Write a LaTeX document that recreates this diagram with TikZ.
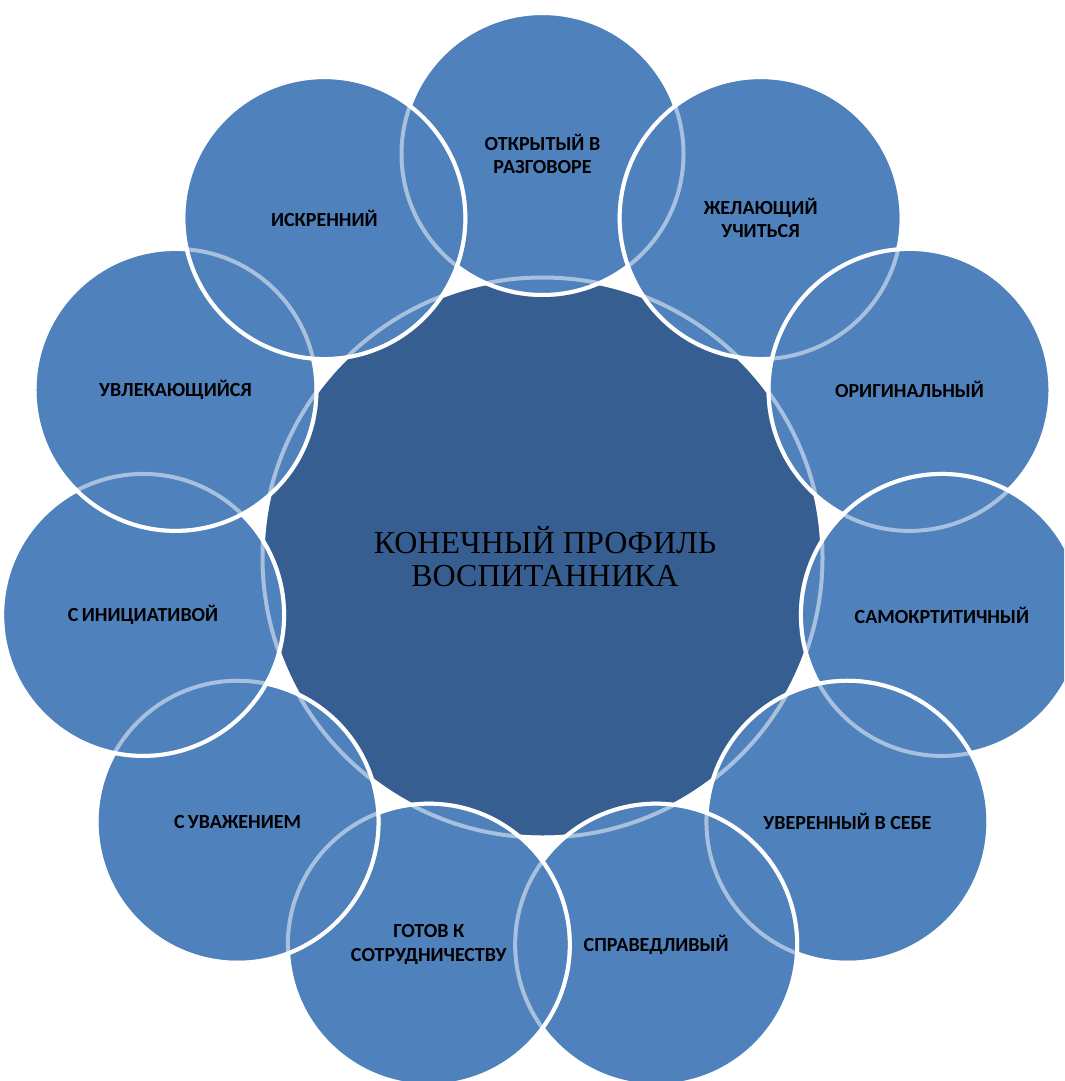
\documentclass[tikz,border=0pt]{standalone}
\usepackage{fontspec}
\setmainfont{Carlito}
\newfontfamily\serifru{Liberation Serif}
\definecolor{outerblue}{RGB}{79,129,189}
\definecolor{innerblue}{RGB}{55,94,145}
\begin{document}
\begin{tikzpicture}[x=0.75pt,y=0.75pt,
  ring/.style={circle, minimum size=211.5pt, inner sep=0pt, fill=outerblue, draw=white, line width=3pt},
  hub/.style={circle, minimum size=420pt, inner sep=0pt, fill=innerblue, draw=white, line width=3pt},
  faint/.style={draw=white, draw opacity=0.5, line width=3pt},
  lbl/.style={font=\fontsize{15}{17.6}\selectfont\bfseries, align=center, text=black, inner sep=0pt},
  hublbl/.style={font=\serifru\fontsize{24}{24.75}\selectfont, align=center, text=black, inner sep=0pt}
]
\useasboundingbox (0,0) rectangle (1064,-1081);
\begin{scope}
\clip (0,0) rectangle (1064,-1081);
\node[hub] (hub) at (542.5,-557.5) {};
\foreach \i in {1,...,11} {
  \pgfmathsetmacro\a{(\i-1)*360/11}
  \node[ring] (c\i) at ({542.5+403.5*sin(\a)},{-557.5+403.5*cos(\a)}) {};
}
\draw[faint] (hub.center) circle (210pt);
\foreach \i in {1,...,11} {\draw[faint] (c\i.center) circle (105.75pt);}
\end{scope}
\node[hublbl] (th) at (545,-557) {КОНЕЧНЫЙ ПРОФИЛЬ\\ВОСПИТАННИКА};
\node[lbl] (t1) at (c1) {ОТКРЫТЫЙ В\\РАЗГОВОРЕ};
\node[lbl] (t2) at (c2) {ЖЕЛАЮЩИЙ\\УЧИТЬСЯ};
\node[lbl] (t3) at (c3) {ОРИГИНАЛЬНЫЙ};
\node[lbl] (t4) at (c4) {САМОКРТИТИЧНЫЙ};
\node[lbl] (t5) at (c5) {УВЕРЕННЫЙ В СЕБЕ};
\node[lbl] (t6) at (c6) {СПРАВЕДЛИВЫЙ};
\node[lbl] (t7) at (c7) {ГОТОВ К\\СОТРУДНИЧЕСТВУ};
\node[lbl] (t8) at (c8) {С\,УВАЖЕНИЕМ};
\node[lbl] (t9) at (c9) {С\,ИНИЦИАТИВОЙ};
\node[lbl] (t10) at (c10) {УВЛЕКАЮЩИЙСЯ};
\node[lbl] (t11) at (c11) {ИСКРЕННИЙ};
\end{tikzpicture}
\end{document}
